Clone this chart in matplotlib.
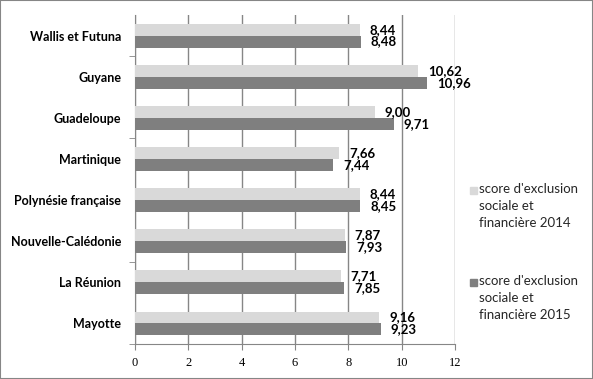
import matplotlib.pyplot as plt
from matplotlib.patches import Rectangle
import numpy as np

plt.rcParams["font.family"] = ["Lato", "DejaVu Sans"]

territoires = [
    "Wallis et Futuna",
    "Guyane",
    "Guadeloupe",
    "Martinique",
    "Polynésie française",
    "Nouvelle-Calédonie",
    "La Réunion",
    "Mayotte",
]
score_2014 = [8.44, 10.62, 9.00, 7.66, 8.44, 7.87, 7.71, 9.16]
score_2015 = [8.48, 10.96, 9.71, 7.44, 8.45, 7.93, 7.85, 9.23]
xticks = [0, 2, 4, 6, 8, 10, 12]
series = ["score d'exclusion\nsociale et\nfinancière 2014",
          "score d'exclusion\nsociale et\nfinancière 2015"]

light = "#d9d9d9"
dark = "#7f7f7f"

fig = plt.figure(figsize=(5.93, 3.79), dpi=100)
fig.patches.append(Rectangle((0, 0), 1, 1, transform=fig.transFigure,
                             fill=False, edgecolor="#868686", linewidth=1.5))
ax = fig.add_axes([0.2277, 0.0923, 0.5396, 0.868])

y = np.arange(len(territoires))
h = 0.29
ax.barh(y - h / 2, score_2014, height=h, color=light, zorder=3)
ax.barh(y + h / 2, score_2015, height=h, color=dark, zorder=3)

for i in range(len(territoires)):
    ax.annotate(f"{score_2014[i]:.2f}".replace(".", ","), (score_2014[i], y[i] - h / 2),
                xytext=(7, 0), textcoords="offset points", va="center",
                fontsize=9.5, fontweight="bold", color="black")
    ax.annotate(f"{score_2015[i]:.2f}".replace(".", ","), (score_2015[i], y[i] + h / 2),
                xytext=(7, 0), textcoords="offset points", va="center",
                fontsize=9.5, fontweight="bold", color="black")

ax.set_xlim(0, 12)
ax.set_ylim(len(territoires) - 0.5, -0.5)
ax.set_xticks(xticks)
ax.set_xticklabels([str(t) for t in xticks], fontsize=9, family="Liberation Serif")
ax.set_yticks(y)
ax.set_yticklabels(territoires, fontsize=9, fontweight="bold")
ax.tick_params(axis="y", length=0, pad=10)
ax.tick_params(axis="x", length=4, direction="out", color="#868686", pad=5)
ax.set_yticks([0.5, 2.5, 5.5, 7.5], minor=True)
ax.tick_params(axis="y", which="minor", length=4, color="#868686")

ax.grid(axis="x", color="#868686", linewidth=1, zorder=0)
for s in ["top", "right"]:
    ax.spines[s].set_visible(False)
ax.spines["left"].set_color("#868686")
ax.spines["bottom"].set_color("#868686")

# legend drawn by hand: square sits next to the first line of each label
W, H = 593, 379
for k, (lab, col) in enumerate(zip(series, [light, dark])):
    top = 190 + k * 92
    fig.patches.append(Rectangle((470 / W, 1 - (top + 4) / H), 7 / W, 7 / H,
                                 transform=fig.transFigure, color=col))
    fig.text(479 / W, 1 - (top - 7) / H, lab, fontsize=9.5, color="#262626",
             va="top", ha="left", linespacing=1.5)

fig.savefig("out.png", dpi=100)
